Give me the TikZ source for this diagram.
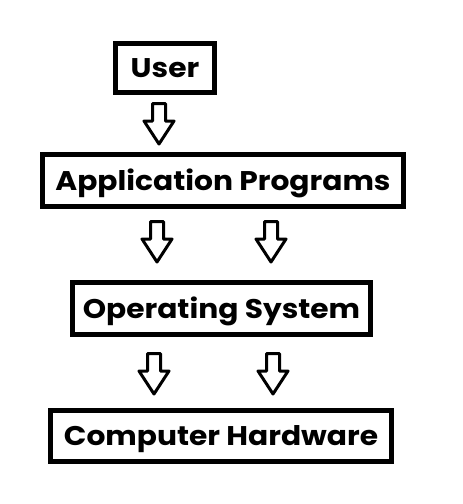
\documentclass[tikz,border=0pt]{standalone}
\usepackage{fontspec}
\setmainfont{Poppins}[FakeStretch=1.1]
\usetikzlibrary{calc}
\def\blockarrow(#1){\draw[arrowline, shift={(#1)}] (-6.5,1.5) -- (6.5,1.5) -- (6.5,19) -- (15,19) -- (0,42) -- (-15,19) -- (-6.5,19) -- cycle;}

\begin{document}
\begin{tikzpicture}[x=1pt, y=-1pt,
	box/.style={draw=black, line width=5pt, fill=white, inner sep=0pt, font=\fontsize{27}{32}\selectfont\bfseries, text height=19pt, text depth=0pt},
	arrowline/.style={draw=black, line width=3pt, line join=round, fill=white}]
		%%%%% START %%%%%
		
		\useasboundingbox (0,0) rectangle (463,504);
		
		\node[box, minimum width=99pt, minimum height=49pt] (user) at (165, 68) {User};
		\node[box, minimum width=361pt, minimum height=52pt] (app) at (223, 180.5) {Application Programs};
		\node[box, minimum width=298pt, minimum height=52pt] (os) at (221.5, 308.5) {Operating System};
		\node[box, minimum width=341pt, minimum height=51pt] (hw) at (221, 436) {Computer Hardware};
		
		\coordinate (a1) at (159, 102);
		\coordinate (a2) at (157, 220);
		\coordinate (a3) at (271, 220);
		\coordinate (a4) at (154, 352);
		\coordinate (a5) at (273, 352);
		
		\blockarrow(a1);
		\blockarrow(a2);
		\blockarrow(a3);
		\blockarrow(a4);
		\blockarrow(a5);
		
		%%%%% END %%%%%
\end{tikzpicture}
\end{document}
